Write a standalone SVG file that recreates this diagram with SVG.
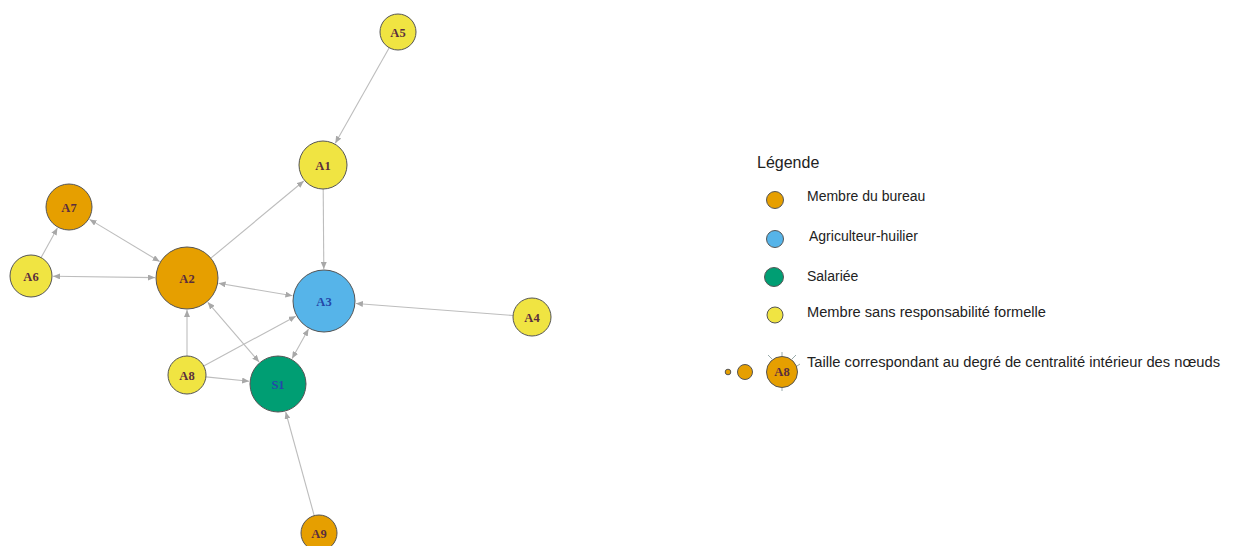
<svg xmlns="http://www.w3.org/2000/svg" width="1235" height="546" viewBox="0 0 1235 546">
<style>
.e{stroke:#bdbdbd;stroke-width:1.1;fill:none}
.n{stroke:#555;stroke-width:1}
.or{fill:#E69F00}.ye{fill:#F0E442}.bl{fill:#56B4E9}.gr{fill:#009E73}
.lb{font-family:"Liberation Serif",serif;font-size:12.5px;font-weight:bold;text-anchor:middle;fill:#5a2e3e}
.lbb{fill:#2448a8}
.lg{font-family:"Liberation Sans",Arial,sans-serif;font-size:14px;fill:#222}
.ti{font-family:"Liberation Sans",Arial,sans-serif;font-size:16px;fill:#222}
.tk{stroke:#9aa;stroke-width:1}
</style>
<defs>
<marker id="ah" markerUnits="userSpaceOnUse" markerWidth="8" markerHeight="6" refX="7" refY="3" orient="auto-start-reverse">
<path d="M0,0 L7,3 L0,6 z" fill="#a8a8a8"/>
</marker>
</defs>
<rect width="1235" height="546" fill="#fff"/>
<g id="connectors">
<line class="e" x1="389.2" y1="47.7" x2="335.3" y2="143.2" marker-end="url(#ah)"/>
<line class="e" x1="210.8" y1="258.2" x2="303.8" y2="181" marker-end="url(#ah)"/>
<line class="e" x1="323.2" y1="189" x2="323.8" y2="269" marker-end="url(#ah)"/>
<line class="e" x1="89.6" y1="219.4" x2="159.6" y2="261.5" marker-start="url(#ah)" marker-end="url(#ah)"/>
<line class="e" x1="41.1" y1="257.6" x2="57.4" y2="228" marker-end="url(#ah)"/>
<line class="e" x1="53" y1="276.3" x2="155" y2="277.6" marker-start="url(#ah)" marker-end="url(#ah)"/>
<line class="e" x1="218.6" y1="283.3" x2="292.4" y2="295.7" marker-start="url(#ah)" marker-end="url(#ah)"/>
<line class="e" x1="207.8" y1="302.3" x2="259.1" y2="362" marker-start="url(#ah)" marker-end="url(#ah)"/>
<line class="e" x1="187" y1="356" x2="187" y2="310" marker-end="url(#ah)"/>
<line class="e" x1="203.7" y1="366" x2="295.8" y2="316.2" marker-end="url(#ah)"/>
<line class="e" x1="205.9" y1="376.9" x2="249.1" y2="381.2" marker-end="url(#ah)"/>
<line class="e" x1="292.1" y1="358.6" x2="308.5" y2="329" marker-start="url(#ah)" marker-end="url(#ah)"/>
<line class="e" x1="513.1" y1="315.5" x2="355.9" y2="303.5" marker-end="url(#ah)"/>
<line class="e" x1="314.2" y1="515.6" x2="285.7" y2="412" marker-end="url(#ah)"/>
</g>
<g id="A5"><circle class="n ye" cx="398" cy="32" r="18"/><text class="lb" x="398" y="36.5">A5</text></g>
<g id="A1"><circle class="n ye" cx="323" cy="165" r="24"/><text class="lb" x="323" y="169.5">A1</text></g>
<g id="A7"><circle class="n or" cx="69" cy="207" r="23"/><text class="lb" x="69" y="211.5">A7</text></g>
<g id="A6"><circle class="n ye" cx="31" cy="276" r="21"/><text class="lb" x="31" y="280.5">A6</text></g>
<g id="A2"><circle class="n or" cx="187" cy="278" r="31"/><text class="lb" x="187" y="282.5">A2</text></g>
<g id="A3"><circle class="n bl" cx="324" cy="301" r="31"/><text class="lb lbb" x="324" y="305.5">A3</text></g>
<g id="A4"><circle class="n ye" cx="532" cy="317" r="19"/><text class="lb" x="532" y="321.5">A4</text></g>
<g id="A8"><circle class="n ye" cx="187" cy="375" r="19"/><text class="lb" x="187" y="379.5">A8</text></g>
<g id="S1"><circle class="n gr" cx="278" cy="384" r="28"/><text class="lb lbb" x="278" y="388.5">S1</text></g>
<g id="A9"><circle class="n or" cx="319" cy="533" r="18"/><text class="lb" x="319" y="537.5">A9</text></g>
<g id="legend">
<text class="ti" x="757" y="168">Légende</text>
<circle class="n or" cx="775" cy="200" r="8.5" stroke-width="0.6"/>
<text class="lg" x="807" y="201">Membre du bureau</text>
<circle class="n bl" cx="775" cy="239" r="8.5" stroke-width="0.6"/>
<text class="lg" x="809" y="241">Agriculteur-huilier</text>
<circle class="n gr" cx="774" cy="277" r="9.5" stroke-width="0.6"/>
<text class="lg" x="807" y="281">Salariée</text>
<circle class="n ye" cx="775" cy="315" r="8" stroke-width="0.6"/>
<text class="lg" x="807" y="317" textLength="239" lengthAdjust="spacingAndGlyphs">Membre sans responsabilité formelle</text>
<circle class="n or" cx="728" cy="372" r="2.8" stroke-width="0.4"/>
<circle class="n or" cx="745" cy="372" r="7.5" stroke-width="0.6"/>
<line class="tk" x1="772" y1="359" x2="768" y2="355"/>
<line class="tk" x1="782" y1="356" x2="782" y2="352"/>
<line class="tk" x1="792" y1="359" x2="796" y2="355"/>
<line class="tk" x1="782" y1="388" x2="782" y2="391"/>
<line class="tk" x1="797" y1="366" x2="800" y2="364"/>
<circle class="n or" cx="782" cy="372" r="15.5"/>
<text class="lb" x="782" y="376" font-size="10">A8</text>
<text class="lg" x="807" y="367" textLength="413" lengthAdjust="spacingAndGlyphs">Taille correspondant au degré de centralité intérieur des nœuds</text>
</g>
</svg>
